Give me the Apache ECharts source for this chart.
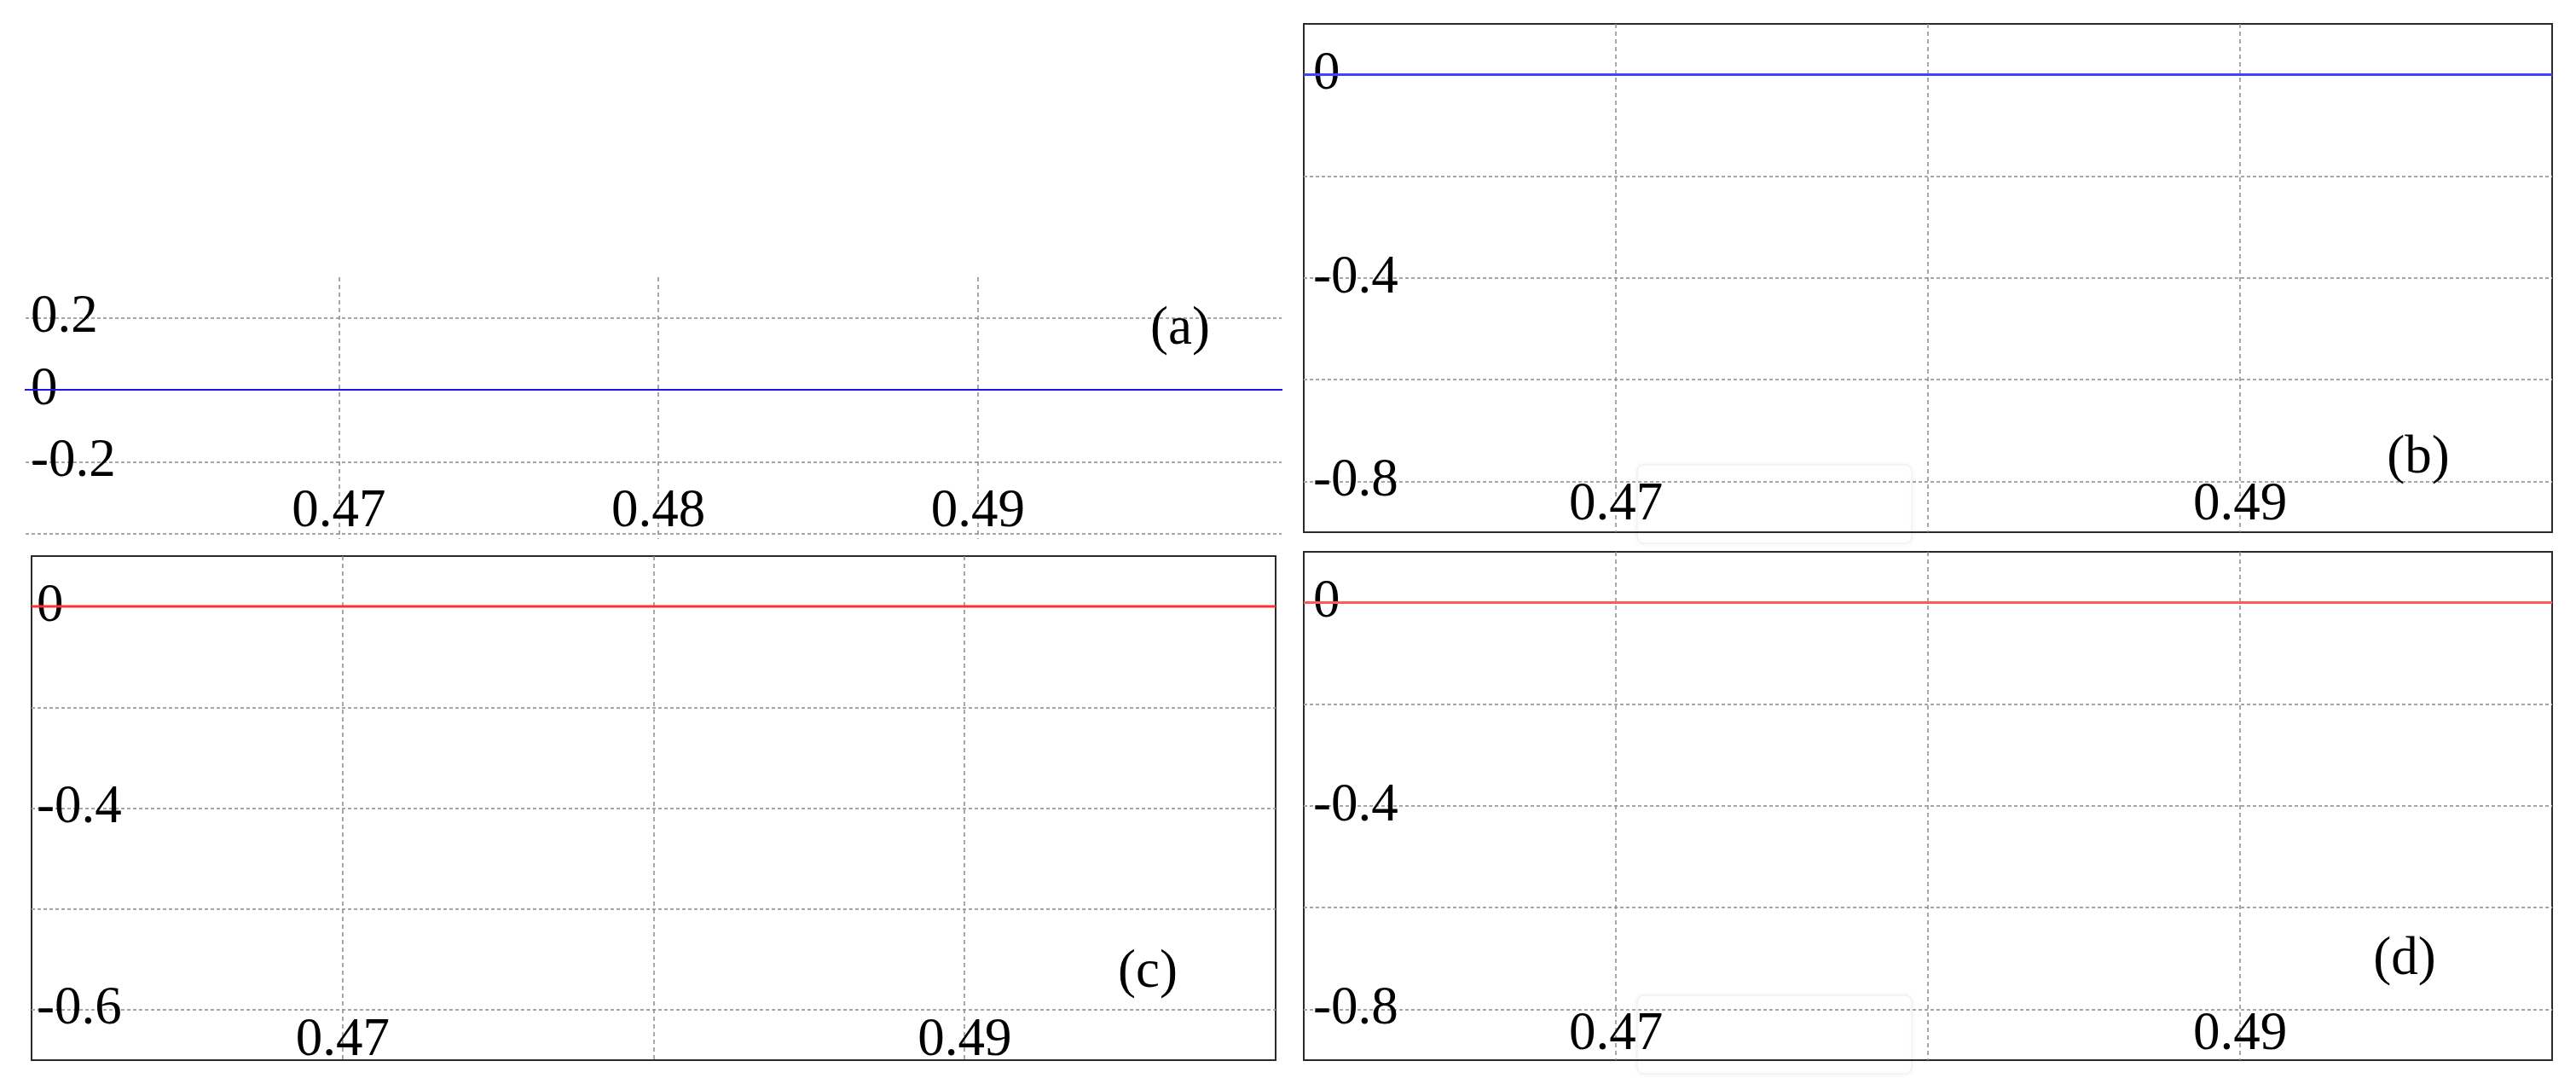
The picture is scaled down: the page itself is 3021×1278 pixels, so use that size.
<!DOCTYPE html>
<html>
<head>
<meta charset="utf-8">
<script src="https://cdn.jsdelivr.net/npm/echarts@6/dist/echarts.min.js"></script>
<style>
  html, body { margin: 0; padding: 0; background: #fff; }
  #chart { width: 3021px; height: 1278px; }
</style>
</head>
<body>
<div id="chart"></div>
<script>
  // 数据
  const xValues = [0.46, 0.47, 0.48, 0.49, 0.50]
  const seriesA = [0, 0, 0, 0, 0]
  const seriesB = [0, 0, 0, 0, 0]
  const seriesC = [0, 0, 0, 0, 0]
  const seriesD = [0, 0, 0, 0, 0]

  const xTicksA = [0.47, 0.48, 0.49]
  const xLabelsA = ['0.47', '0.48', '0.49']
  const xTicksBCD = [0.47, 0.49]
  const xLabelsBCD = ['0.47', '0.49']

  const yTicksA = [0.2, 0, -0.2]
  const yLabelsA = ['0.2', '0', '-0.2']
  const yTicksBCD = [0, -0.4, -0.8]
  const yLabelsB = ['0', '-0.4', '-0.8']
  const yLabelsC = ['0', '-0.4', '-0.6']
  const yLabelsD = ['0', '-0.4', '-0.8']

  const panelNames = ['(a)', '(b)', '(c)', '(d)']

  const FONT = '"Liberation Serif", "Times New Roman", serif'

  // 按刻度取标签
  function pick (ticks, labels) {
    return function (v) {
      for (let i = 0; i < ticks.length; i++) {
        if (Math.abs(v - ticks[i]) < 1e-6) return labels[i]
      }
      return ''
    }
  }

  // 四个子图的布局
  const panels = [
    { rect: [30, 325, 1473, 307], frame: false, xMin: 0.4602, xMax: 0.4995, xSplit: 4, yMin: -0.415, yMax: 0.313, ySplit: 4,
      xt: [xTicksA, xLabelsA], yt: [yTicksA, yLabelsA], data: seriesA, color: '#1818f0', width: 2, xMargin: 0, yMargin: 6, tag: [1384, 386] },
    { rect: [1529, 28, 1464, 596], frame: true, xMin: 0.46, xMax: 0.50, xSplit: 4, yMin: -0.9, yMax: 0.1, ySplit: 5,
      xt: [xTicksBCD, xLabelsBCD], yt: [yTicksBCD, yLabelsB], data: seriesB, color: '#4343ff', width: 3, xMargin: 0, yMargin: 11, tag: [2836, 537] },
    { rect: [37, 652, 1459, 591], frame: true, xMin: 0.46, xMax: 0.50, xSplit: 4, yMin: -0.9, yMax: 0.1, ySplit: 5,
      xt: [xTicksBCD, xLabelsBCD], yt: [yTicksBCD, yLabelsC], data: seriesC, color: '#ff3030', width: 3, xMargin: -9, yMargin: 6, tag: [1346, 1140] },
    { rect: [1529, 647, 1464, 596], frame: true, xMin: 0.46, xMax: 0.50, xSplit: 4, yMin: -0.9, yMax: 0.1, ySplit: 5,
      xt: [xTicksBCD, xLabelsBCD], yt: [yTicksBCD, yLabelsD], data: seriesD, color: '#ff5a5a', width: 3, xMargin: -2, yMargin: 11, tag: [2820, 1125] }
  ]

  const option = {
    animation: false,
    backgroundColor: '#ffffff',
    grid: [],
    xAxis: [],
    yAxis: [],
    series: [],
    graphic: []
  }

  panels.forEach((p, i) => {
    option.grid.push({
      left: p.rect[0],
      top: p.rect[1],
      width: p.rect[2],
      height: p.rect[3],
      containLabel: false,
      outerBoundsMode: 'none',
      show: p.frame,
      borderColor: '#2a2a2a',
      borderWidth: 2
    })
    option.xAxis.push({
      type: 'value',
      gridIndex: i,
      min: p.xMin,
      max: p.xMax,
      splitNumber: p.xSplit,
      axisLine: { show: false },
      axisTick: { show: false },
      axisLabel: {
        inside: true,
        margin: p.xMargin,
        showMinLabel: false,
        showMaxLabel: false,
        color: '#000',
        fontFamily: FONT,
        fontSize: 63,
        formatter: pick(p.xt[0], p.xt[1])
      },
      splitLine: {
        show: true,
        showMinLine: false,
        showMaxLine: false,
        lineStyle: { color: '#8c8c8c', width: 1.5, type: [5, 4] }
      }
    })
    option.yAxis.push({
      type: 'value',
      gridIndex: i,
      min: p.yMin,
      max: p.yMax,
      splitNumber: p.ySplit,
      axisLine: { show: false },
      axisTick: { show: false },
      axisLabel: {
        inside: true,
        margin: p.yMargin,
        showMinLabel: false,
        showMaxLabel: false,
        color: '#000',
        fontFamily: FONT,
        fontSize: 63,
        formatter: pick(p.yt[0], p.yt[1])
      },
      splitLine: {
        show: true,
        showMinLine: false,
        showMaxLine: false,
        lineStyle: { color: '#a6a6a6', width: 2, type: [4, 3] }
      }
    })
    option.series.push({
      type: 'line',
      xAxisIndex: i,
      yAxisIndex: i,
      showSymbol: false,
      silent: true,
      z: 1,
      lineStyle: { color: p.color, width: p.width },
      data: xValues.map((x, k) => [x, p.data[k]])
    })
    option.graphic.push({
      type: 'text',
      x: p.tag[0],
      y: p.tag[1],
      z: 10,
      style: {
        text: panelNames[i],
        fill: '#000',
        font: '63px ' + FONT,
        align: 'center',
        verticalAlign: 'middle'
      }
    })
  })

  // 淡色浮框（原图残留）
  option.graphic.push({
    type: 'rect', z: -1,
    shape: { x: 1920, y: 545, width: 322, height: 92, r: 8 },
    style: { fill: '#fff', stroke: '#ececec', lineWidth: 1, shadowBlur: 6, shadowColor: 'rgba(0,0,0,0.06)' }
  })
  option.graphic.push({
    type: 'rect', z: -1,
    shape: { x: 1920, y: 1167, width: 322, height: 92, r: 8 },
    style: { fill: '#fff', stroke: '#ececec', lineWidth: 1, shadowBlur: 6, shadowColor: 'rgba(0,0,0,0.06)' }
  })

  const myChart = echarts.init(document.getElementById('chart'))
  myChart.setOption(option)
</script>
</body>
</html>
